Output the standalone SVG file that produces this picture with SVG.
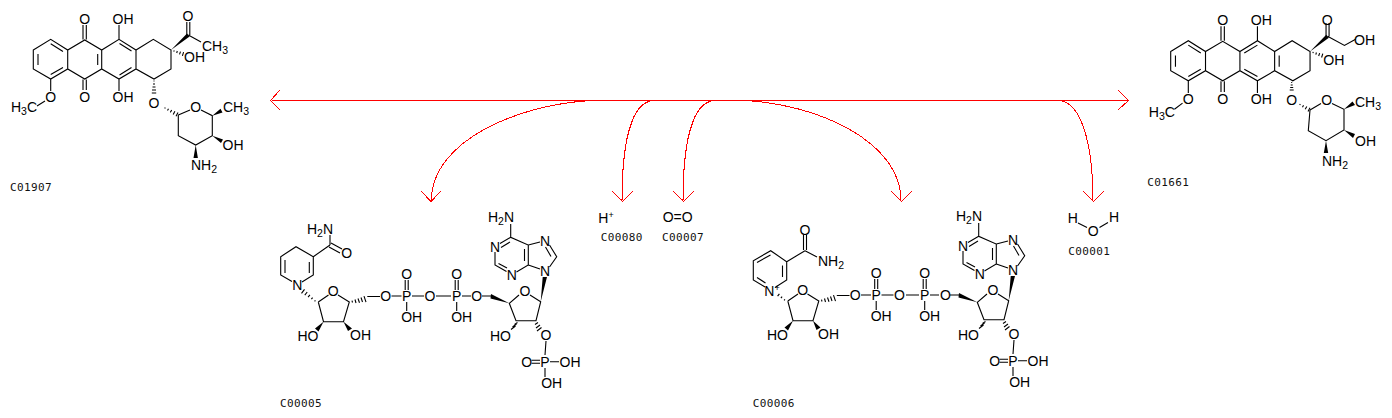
<svg xmlns="http://www.w3.org/2000/svg" width="1392" height="418" viewBox="0 0 1392 418">
<style>
text{font-family:"Liberation Sans",Arial,sans-serif;font-size:14px;fill:#000;text-anchor:middle}
text.l{font-family:"DejaVu Sans Mono",monospace;font-size:11px;letter-spacing:.38px;text-anchor:start;fill:#111}
.b{fill:none;stroke:#000;stroke-width:1.1}
.w{fill:#000;stroke:none}
.r{fill:none;stroke:#f00;stroke-width:1;shape-rendering:crispEdges}
</style>
<rect width="1392" height="418" fill="#fff"/>

<g id="connectors">
<path class="r" d="M272 100.5H1128"/>
<path class="r" d="M280 90L270.5 100.5L280 110"/>
<path class="r" d="M1118 90L1128.5 100.5L1118 110"/>
<path class="r" d="M592 100.5C520 104 431.300 140 431.300 201"/>
<path class="r" d="M421 191L431 201.5L441 191"/>
<path class="r" d="M652 100.5C632 104 622 140 622 201"/>
<path class="r" d="M612 191L622.5 201.5L633 191"/>
<path class="r" d="M713 100.5C693 104 683 140 683 201"/>
<path class="r" d="M673 191L683.5 201.5L694 191"/>
<path class="r" d="M745 100.500C815 104 901 140 901 201"/>
<path class="r" d="M891 191L901.5 201.5L912 191"/>
<path class="r" d="M1060 100.5C1080 103 1093 140 1093 201"/>
<path class="r" d="M1083 191L1093.5 201.5L1104 191"/>
</g>

<g id="C01907">
<path class="b" d="M33.3 50L50.7 39.3L67.7 50L84.7 40L101.7 50L119 39.3L136 50L153.3 39.3L171 50V69L154 79L136 69L119 79L101.7 69L84.7 79L67.7 69L50.7 79L33.3 69ZM67.7 50V69M101.7 50V69M136 50V69M38 54V65M50.7 43.7L63 51.5M50.7 74.6L63 67.5M97.700 54V65M119.500 43.500L131.500 51M119.500 75L131.500 67.500M83 25V39.5M86.3 25V39.5M83 79.5V90M86.3 79.5V90M119 39V25M119 79V91M186.8 35V22M189.8 35V22M188.3 35L201 42M50.7 79V91M45 101L37 106M178.3 115L190 110M201 110L212.3 115.7V135.7L195.7 145L178.3 135.7V115"/>
<path class="b" d="M153.5 81h1M153 84h2M152.5 87h3M152 90h4M151.8 93h4.4M164.7 107.5L165.3 108.5M167.5 110.5L168.5 108.7M170.3 112.4L171.7 110M173.2 114.4L174.9 111.2M176 116.3L178 112.5M173.8 51.6L174.2 50.4M176.7 53L177.3 51M179.5 54.4L180.5 51.6M182.4 55.9L183.6 52.1"/>
<path class="w" d="M171 50L187 33.5L189.6 36.5ZM212.3 115.7L220.5 108.7L222.5 112.5ZM212.3 135.7L223 139.5L221 143ZM195.7 145L193.5 158H197.9Z"/>
<text x="84.7" y="24">O</text><text x="123" y="24">OH</text><text x="188" y="21">O</text>
<text x="215" y="51">CH<tspan dy="3" font-size="10.5">3</tspan></text>
<text x="194.500" y="62">OH</text><text x="84.7" y="102">O</text><text x="123" y="102">OH</text>
<text x="154" y="108">O</text><text x="50.7" y="102">O</text>
<text x="24" y="112">H<tspan dy="3" font-size="10.5">3</tspan><tspan dy="-3">C</tspan></text>
<text x="195.700" y="112">O</text><text x="236" y="112">CH<tspan dy="3" font-size="10.5">3</tspan></text>
<text x="233" y="150">OH</text><text x="204" y="170">NH<tspan dy="3" font-size="10.5">2</tspan></text>
<text class="l" x="10" y="191">C01907</text>
</g>

<g id="C01661">
<g transform="translate(1137 .9) scale(1.012)">
<path class="b" d="M33.3 50L50.7 39.3L67.7 50L84.7 40L101.7 50L119 39.3L136 50L153.3 39.3L171 50V69L154 79L136 69L119 79L101.7 69L84.7 79L67.7 69L50.7 79L33.3 69ZM67.7 50V69M101.7 50V69M136 50V69M38 54V65M50.7 43.7L63 51.5M50.7 74.6L63 67.5M140.500 54V65M106 51.5L119 43.7M106 67.5L119 74.6M83 25V39.5M86.3 25V39.5M83 79.5V90M86.3 79.5V90M119 39V25M119 79V91M186.8 35V22M189.8 35V22M188.3 35L205 44L216 38M50.7 79V91M45 101L37 107"/>
<path class="b" d="M173.8 51.6L174.2 50.4M176.7 53L177.3 51M179.5 54.4L180.5 51.6M182.4 55.9L183.6 52.1"/>
<path class="w" d="M171 50L187 33.5L189.6 36.5Z"/>
<text x="84.7" y="24">O</text><text x="123" y="24">OH</text><text x="188" y="24">O</text>
<text x="225" y="44">OH</text>
<text x="194.500" y="63">OH</text><text x="84.7" y="102">O</text><text x="123" y="102">OH</text>
<text x="50.7" y="102">O</text>
<text x="24.600" y="114.400">H<tspan dy="3" font-size="10.5">3</tspan><tspan dy="-3">C</tspan></text>
</g>
<path class="b" d="M1291.200 82.500h1M1290.700 85h2M1290.200 87.500h3M1289.700 90h4M1299.700 105L1300.300 104M1302.500 107.200L1303.500 105.200M1305.200 109.300L1306.800 106.500M1308 111.400L1310 107.800"/>
<path class="b" d="M1310 110L1321 103.500M1332 103.500L1344 109.300V130L1326 140.700L1308.300 130.700L1310 110"/>
<path class="w" d="M1344 109.300L1352.500 101.500L1355 105ZM1344 130L1355 134L1353 138ZM1326 140.700L1323.800 153H1328.200Z"/>
<text x="1291.700" y="104.500">O</text><text x="1326.700" y="104.500">O</text>
<text x="1368" y="107">CH<tspan dy="3" font-size="10.5">3</tspan></text>
<text x="1365.500" y="146">OH</text><text x="1335" y="166">NH<tspan dy="3" font-size="10.5">2</tspan></text>
<text class="l" x="1147.300" y="186">C01661</text>
</g>

<g id="C00005">
<path class="b" d="M302 282L313.3 275V256.7L296 246.700L280.7 256.7V275L292 281.500M309.300 262V273M285 260V273M313.3 256.7L330 245M331 243L342 249M329 247L340 253M330 245V235"/>
<path class="b" d="M318.3 302L328.500 295M338 295L349.300 302L343.500 321.700H323.500L318.3 302M367.300 296.500H380M391.500 296H401.500M412 296H424M405.200 290V280M408.200 290V280M406.700 302V311M436 296H451M455.200 290V280M458.200 290V280M456.700 302V311M462 296H471"/>
<path class="b" d="M314.600 301.300L315.400 300.300M311.400 299.200L312.600 297.600M308.100 297.200L309.900 294.800M304.800 295.200L307.200 292M301.500 293.300L304.500 289.300M352 300.600L352.500 302.500M355 299.500L356 303M358 298.500L359.500 302.800M361 297.500L362.500 302M364 296.200L366 302.200"/>
<path class="w" d="M323.500 321.700L315 328.500L318.500 331.500ZM343.500 321.700L348 331L352 328.500Z"/>
<text x="320" y="234">H<tspan dy="3" font-size="10.5">2</tspan><tspan dy="-3">N</tspan></text><text x="346.700" y="258">O</text><text x="297.300" y="290">N</text>
<text x="333.300" y="295.500">O</text><text x="308" y="341">HO</text><text x="360.500" y="340">OH</text>
<text x="385.700" y="301">O</text><text x="406.700" y="301">P</text><text x="406.700" y="279">O</text><text x="411.700" y="322">OH</text>
<text x="430" y="301">O</text><text x="456.700" y="301">P</text><text x="456.700" y="279">O</text><text x="461.700" y="322">OH</text>
<text x="476.700" y="301">O</text>
<path class="b" d="M482 296H491M530 295L540.700 301.700L536 320.700H516L509.300 303.300L519 295M510.700 237.300L500 243.500M495 252V265L506.500 271.500M516.500 272L528.300 265V245L510.700 237.300V224M528.300 245L540 242M549.500 245L556.700 256.700L549.500 267M540 269L528.300 265M510 242L501 247.500M498.500 263.500L507 268M524.500 249V261M545.500 247L551 256.500M546 341L545 355M531.500 360.200H540M531.500 363.200H540M550 361.700H559M545 368V377"/>
<path class="b" d="M514.500 324.500L517.500 322.500M512.500 327L516.500 324M511 329.500L515.500 326M538 322.500L535 324.500M540 325L536 328M541.500 327.500L537 331"/>
<path class="w" d="M509.300 303.300L491 294L490.500 298.500ZM540.700 301.700L542.700 277H547Z"/>
<text x="501" y="222">H<tspan dy="3" font-size="10.5">2</tspan><tspan dy="-3">N</tspan></text>
<text x="495" y="252">N</text><text x="511.700" y="280">N</text><text x="545" y="245.500">N</text><text x="545" y="276">N</text>
<text x="525" y="295.500">O</text><text x="500.500" y="341">HO</text><text x="546" y="340">O</text>
<text x="545" y="366.700">P</text><text x="526.700" y="366.700">O</text><text x="570" y="366.700">OH</text><text x="551.700" y="388">OH</text>
<text class="l" x="280" y="407">C00005</text>
</g>

<g id="C00006">
<path class="b" d="M775 287.500L786.700 280V261.700L770.700 250.700L753.300 260.700V280L765 287M782.500 265.500V277M757 262.500L770.500 255M757 277.500L765.500 283M786.700 261.700L805 250.700M803.500 250V235M806.500 250V235M805 250.700L817 257"/>
<g transform="translate(469.500 -1)">
<path class="b" d="M318.3 302L328.500 295M338 295L349.300 302L343.500 321.700H323.500L318.3 302M367.300 296.500H380M391.500 296H401.500M412 296H424M405.200 290V280M408.200 290V280M406.700 302V311"/>
<path class="b" d="M314.600 301.300L315.400 300.300M311.400 299.200L312.600 297.600M308.100 297.200L309.900 294.800M352 300.600L352.500 302.500M355 299.500L356 303M358 298.500L359.500 302.800M361 297.500L362.500 302M364 296.200L366 302.200"/>
<path class="w" d="M323.500 321.700L315 328.500L318.500 331.500ZM343.500 321.700L347 331L351 328.500Z"/>
<text x="333.300" y="295.500">O</text><text x="308" y="341">HO</text><text x="359" y="340">OH</text>
<text x="385.700" y="301">O</text><text x="406.700" y="301">P</text><text x="406.700" y="279">O</text><text x="411.700" y="322">OH</text>
<text x="430" y="301">O</text>
</g>
<g transform="translate(468 -1)">
<path class="b" d="M438 296H451M455.200 290V280M458.200 290V280M456.700 302V311M462 296H471"/>
<text x="456.700" y="301">P</text><text x="456.700" y="279">O</text><text x="461.700" y="322">OH</text>
<text x="477.500" y="301">O</text>
<path class="b" d="M482 296H491M530 295L540.700 301.700L536 320.700H516L509.300 303.300L519 295M510.700 237.300L500 243.500M495 252V265L506.500 271.500M516.500 272L528.300 265V245L510.700 237.300V224M528.300 245L540 242M549.500 245L556.700 256.700L549.500 267M540 269L528.300 265M510 242L501 247.500M498.500 263.500L507 268M524.500 249V261M545.500 247L551 256.500M546 341L545 355M531.500 360.200H540M531.500 363.200H540M550 361.700H559M545 368V377"/>
<path class="b" d="M514.500 324.500L517.500 322.500M512.500 327L516.500 324M511 329.500L515.500 326M538 322.500L535 324.500M540 325L536 328M541.500 327.500L537 331"/>
<path class="w" d="M509.300 303.300L491 294L490.500 298.500ZM540.700 301.700L542.700 277H547Z"/>
<text x="501" y="222">H<tspan dy="3" font-size="10.5">2</tspan><tspan dy="-3">N</tspan></text>
<text x="495" y="252">N</text><text x="511.700" y="280">N</text><text x="545" y="245.500">N</text><text x="545" y="276">N</text>
<text x="525" y="295.500">O</text><text x="500.500" y="341">HO</text><text x="546" y="340">O</text>
<text x="545" y="366.700">P</text><text x="526.700" y="366.700">O</text><text x="570" y="366.700">OH</text><text x="551.700" y="388">OH</text>
</g>
<text x="805" y="235">O</text><text x="831" y="266">NH<tspan dy="3" font-size="10.5">2</tspan></text>
<text x="772" y="295.500">N<tspan dy="-5" font-size="9">+</tspan></text>
<text class="l" x="752.700" y="406.700">C00006</text>
</g>

<g id="C00080">
<text x="606" y="223">H<tspan dy="-5" font-size="9">+</tspan></text>
<text class="l" x="600.700" y="241">C00080</text>
</g>
<g id="C00007">
<text x="677.700" y="221.500">O=O</text>
<text class="l" x="662" y="241">C00007</text>
</g>
<g id="C00001">
<path class="b" d="M1078 223L1087 227.500M1099.500 227.500L1108 222.500"/>
<text x="1072.700" y="222.500">H</text><text x="1093.300" y="236">O</text><text x="1114" y="221.500">H</text>
<text class="l" x="1068.300" y="255">C00001</text>
</g>
</svg>
